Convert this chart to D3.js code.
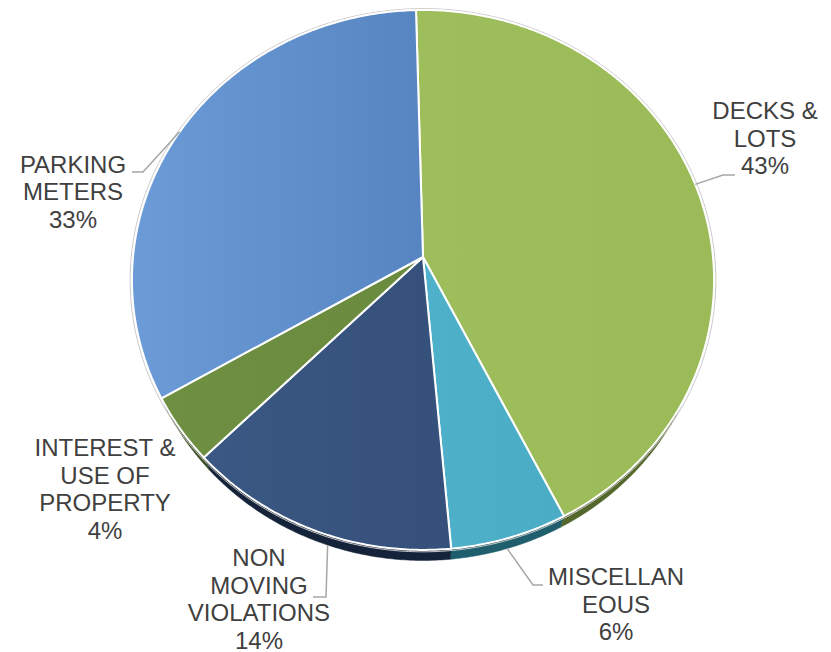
<!DOCTYPE html>
<html>
<head>
<meta charset="utf-8">
<script src="https://cdn.jsdelivr.net/npm/d3@7"></script>
<style>
  body { margin: 0; background: #fff; }
  text { font-family: "Liberation Sans", Arial, sans-serif; }
</style>
</head>
<body>
<div id="chart"></div>
<script>
// slice data, clockwise from 12 o'clock
var categories = ["DECKS & LOTS", "MISCELLANEOUS", "NON MOVING VIOLATIONS", "INTEREST & USE OF PROPERTY", "PARKING METERS"];
var label_lines = [["DECKS &", "LOTS"], ["MISCELLAN", "EOUS"], ["NON", "MOVING", "VIOLATIONS"], ["INTEREST &", "USE OF", "PROPERTY"], ["PARKING", "METERS"]];
var values = [43, 6, 14, 4, 33];
var colors = ["#9bbb59", "#4bacc6", "#35507a", "#6a8a3e", "#5685c2"];
var light_colors = ["#9ebe5c", "#4fb0ca", "#3a5883", "#6f9043", "#6c9cd7"];
var side_colors = ["#55682c", "#1f5e6c", "#14233a", "#3a4d20", "#2c4a72"];

var width = 831, height = 652;
var cx = 423, cy = 257;   // apex of the pie
var R = 290, A = 268, p = 0.085;
var depth = 17, bottom_r = 0.975;   // bottom face sits lower and looks smaller
var start = -1.5 * Math.PI / 180;

// label layout: center x, first baseline, leader polyline elbow / end
var label_pos = [
  {x: 765, y: 119, elbow: [723, 175], end: [735, 175], adj: -2, drop: false},
  {x: 616, y: 585, elbow: [533, 585], end: [543, 585], adj: 0, drop: true},
  {x: 259, y: 566, elbow: [326, 597], end: [313, 597], adj: -2, drop: true},
  {x: 105, y: 456, elbow: null, end: null, adj: 0, drop: false},
  {x: 73, y: 172.5, elbow: [143, 172], end: [132, 172], adj: 0, drop: false}
];
var line_h = 27.5;

var svg = d3.select("#chart").append("svg")
    .attr("width", width)
    .attr("height", height);

var defs = svg.append("defs");

// perspective projection of a point on the disc (angle from top, clockwise)
function proj(theta, r, drop) {
  var x = r * Math.sin(theta), z = -r * Math.cos(theta);
  var f = 1 / (1 - p * z);
  return [cx + R * x * f, cy + A * z * f + drop * f];
}

function arc_points(a0, a1, r, drop) {
  var n = Math.max(2, Math.ceil(Math.abs(a1 - a0) / 0.01));
  return d3.range(n + 1).map(function(i) { return proj(a0 + (a1 - a0) * i / n, r, drop); });
}

var pie = d3.pie().sort(null).value(function(d) { return d; })
    .startAngle(start).endAngle(start + 2 * Math.PI);
var arcs = pie(values);

var line = d3.line();

// side walls
var sides = svg.append("g");
arcs.forEach(function(a, i) {
  var top = arc_points(a.startAngle, a.endAngle, 1, 0);
  var bot = arc_points(a.endAngle, a.startAngle, bottom_r, depth);
  sides.append("path")
      .attr("d", line(top.concat(bot)) + "Z")
      .attr("fill", side_colors[i])
      .attr("stroke", side_colors[i])
      .attr("stroke-width", 0.5);
});

// faint outline round the top face
svg.append("path")
    .attr("d", line(arc_points(0, 2 * Math.PI, 1.006, 0)) + "Z")
    .attr("fill", "none")
    .attr("stroke", "#c8c8c8")
    .attr("stroke-width", 1);

// gradients
arcs.forEach(function(a, i) {
  var g = defs.append("linearGradient")
      .attr("id", "grad" + i)
      .attr("x1", "0%").attr("x2", "100%")
      .attr("y1", "0%").attr("y2", "0%");
  g.append("stop").attr("offset", "0%").attr("stop-color", light_colors[i]);
  g.append("stop").attr("offset", "100%").attr("stop-color", colors[i]);
});

// top face slices
var tops = svg.append("g");
arcs.forEach(function(a, i) {
  var pts = [[cx, cy]].concat(arc_points(a.startAngle, a.endAngle, 1, 0));
  tops.append("path")
      .attr("d", line(pts) + "Z")
      .attr("fill", "url(#grad" + i + ")")
      .attr("stroke", "#ffffff")
      .attr("stroke-width", 2)
      .attr("stroke-linejoin", "round");
});

// leader lines
var leaders = svg.append("g");
arcs.forEach(function(a, i) {
  var lp = label_pos[i];
  if (!lp.elbow) return;
  var mid = (a.startAngle + a.endAngle) / 2 + lp.adj * Math.PI / 180;
  var s = lp.drop ? proj(mid, bottom_r, depth) : proj(mid, 1, 0);
  leaders.append("path")
      .attr("d", line([s, lp.elbow, lp.end]))
      .attr("fill", "none")
      .attr("stroke", "#a6a6a6")
      .attr("stroke-width", 1.5);
});

// labels
var labels = svg.append("g");
arcs.forEach(function(a, i) {
  var lp = label_pos[i];
  var lines = label_lines[i].concat([values[i] + "%"]);
  var t = labels.append("text")
      .attr("text-anchor", "middle")
      .attr("font-size", "24px")
      .attr("fill", "#404040");
  lines.forEach(function(s, k) {
    t.append("tspan")
        .attr("x", lp.x)
        .attr("y", lp.y + k * line_h)
        .text(s);
  });
});
</script>
</body>
</html>
